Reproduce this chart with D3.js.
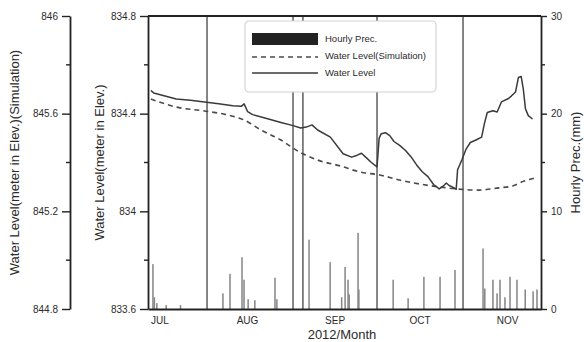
<!DOCTYPE html>
<html>
<head>
<meta charset="utf-8">
<script src="https://cdn.jsdelivr.net/npm/d3@7"></script>
<style>
  html, body { margin: 0; padding: 0; background: #fff; }
  text { font-family: "Liberation Sans", Arial, sans-serif; fill: #2b2b2b; }
</style>
</head>
<body>
<svg id="chart" width="584" height="342"></svg>
<script>
// ---- data ----------------------------------------------------------------
const monthLabels = ["JUL", "AUG", "SEP", "OCT", "NOV"];
const monthStarts = ["07-01 00", "08-01 00", "09-01 00", "10-01 00", "11-01 00"];

// observed water level (m, elevation)
const levelTimes = [
  "06-28 00", "06-29 00", "07-03 00", "07-07 00", "07-12 00", "07-17 00", "07-22 00",
  "07-27 00", "07-30 00", "07-31 00", "08-01 06", "08-03 00", "08-08 00", "08-13 00",
  "08-17 00", "08-20 00", "08-22 00", "08-24 00", "08-26 00", "08-30 12", "09-04 00",
  "09-07 00", "09-09 00", "09-10 12", "09-12 00", "09-14 00", "09-16 00", "09-16 18",
  "09-17 12", "09-19 00", "09-20 12", "09-22 00", "09-24 00", "09-26 00", "09-28 00",
  "09-30 00", "10-02 00", "10-04 00", "10-06 00", "10-08 00", "10-09 12", "10-10 12",
  "10-11 12", "10-13 00", "10-14 00", "10-14 12", "10-16 00", "10-17 12", "10-19 00",
  "10-21 00", "10-23 00", "10-24 00", "10-25 00", "10-27 00", "10-28 12", "10-30 00",
  "11-01 12", "11-02 12", "11-04 00", "11-05 00", "11-06 00", "11-06 18", "11-07 12",
  "11-08 12", "11-10 00"
];
const levelValues = [
  834.495, 834.485, 834.472, 834.460, 834.455, 834.448, 834.441,
  834.432, 834.430, 834.440, 834.408, 834.396, 834.380, 834.364,
  834.352, 834.341, 834.345, 834.354, 834.333, 834.304, 834.236,
  834.222, 834.230, 834.238, 834.222, 834.200, 834.182, 834.300,
  834.318, 834.322, 834.310, 834.286, 834.270, 834.250, 834.224,
  834.190, 834.162, 834.142, 834.110, 834.092, 834.104, 834.116,
  834.106, 834.098, 834.090, 834.170, 834.210, 834.255, 834.282,
  834.292, 834.304, 834.360, 834.405, 834.412, 834.407, 834.448,
  834.462, 834.472, 834.489, 834.548, 834.552, 834.500, 834.420,
  834.392, 834.378
];

// simulated water level (m, elevation)
const simTimes = [
  "06-28 00", "07-07 00", "07-17 00", "07-25 00", "07-31 00", "08-06 00", "08-13 00",
  "08-19 00", "08-26 00", "09-03 00", "09-10 00", "09-17 00", "09-24 00", "10-01 00",
  "10-08 00", "10-15 00", "10-22 00", "10-29 00", "11-03 00", "11-07 00", "11-11 00"
];
const simValues = [
  845.660, 845.627, 845.611, 845.595, 845.574, 845.533, 845.492,
  845.447, 845.410, 845.386, 845.361, 845.349, 845.328, 845.312,
  845.300, 845.291, 845.287, 845.296, 845.304, 845.324, 845.337
];

// hourly precipitation (mm)
const precTimes = [
  "06-28 18", "06-29 06", "06-30 03", "07-03 10", "07-08 12", "07-17 21", "07-23 12",
  "07-26 00", "07-30 06", "07-30 23", "08-01 10", "08-03 19", "08-10 22", "08-11 14",
  "08-17 07", "08-20 19", "08-22 23", "08-30 10", "09-03 12", "09-04 17", "09-05 18",
  "09-06 04", "09-09 07", "09-09 14", "09-16 00", "09-21 17", "09-27 00", "10-02 14",
  "10-08 07", "10-13 14", "10-16 10", "10-23 12", "10-24 03", "10-27 00", "10-28 11",
  "10-29 12", "10-31 06", "11-02 01", "11-04 12", "11-07 10", "11-10 05", "11-11 14"
];
const precValues = [
  4.6, 1.2, 0.6, 0.4, 0.4, 34, 1.6,
  3.6, 5.3, 3.0, 1.0, 0.9, 3.2, 1.0,
  36, 33, 7.1, 4.8, 1.2, 4.3, 3.0,
  1.5, 7.8, 2.0, 35, 3.0, 1.1, 3.3,
  3.3, 4.0, 34, 6.2, 2.1, 3.0, 1.6,
  3.0, 1.2, 3.3, 3.0, 2.0, 1.8, 2.0
];

const levelTicks = [833.6, 834, 834.4, 834.8];
const simTicks = [844.8, 845.2, 845.6, 846];
const precTicks = [0, 10, 20, 30];

const legendLabels = ["Hourly Prec.", "Water Level(Simulation)", "Water Level"];

// ---- layout ----------------------------------------------------------------
const parse = d3.timeParse("%Y-%m-%d %H");
const t = s => parse("2012-" + s);

const plotL = 148, plotR = 541, plotT = 16, plotB = 309;
const simAxisX = 70;

const x = d3.scaleTime()
  .domain([t("06-27 00"), t("11-13 00")])
  .range([plotL, plotR]);
const yLevel = d3.scaleLinear().domain([833.6, 834.8]).range([plotB, plotT]);
const ySim = d3.scaleLinear().domain([844.8, 846]).range([plotB, plotT]);
const yPrec = d3.scaleLinear().domain([0, 30]).range([plotB, plotT]).clamp(true);

const svg = d3.select("#chart");

svg.append("defs").append("clipPath").attr("id", "plot-clip")
  .append("rect").attr("x", plotL).attr("y", plotT)
  .attr("width", plotR - plotL).attr("height", plotB - plotT);

const plot = svg.append("g").attr("clip-path", "url(#plot-clip)");

// precipitation bars
const prec = precTimes.map((s, i) => ({ t: t(s), v: precValues[i] }));
plot.append("g").selectAll("rect").data(prec).join("rect")
  .attr("x", d => x(d.t) - 0.75)
  .attr("width", 1.5)
  .attr("y", d => yPrec(d.v))
  .attr("height", d => yPrec(0) - yPrec(d.v))
  .attr("fill", d => d.v >= 30 ? "#5e5e5e" : "#858585");

// simulated level (dashed)
const sim = simTimes.map((s, i) => ({ t: t(s), v: simValues[i] }));
plot.append("path").datum(sim)
  .attr("fill", "none").attr("stroke", "#4a4a4a").attr("stroke-width", 1.6)
  .attr("stroke-dasharray", "5,4")
  .attr("d", d3.line().curve(d3.curveMonotoneX).x(d => x(d.t)).y(d => ySim(d.v)));

// observed level (solid)
const level = levelTimes.map((s, i) => ({ t: t(s), v: levelValues[i] }));
plot.append("path").datum(level)
  .attr("fill", "none").attr("stroke", "#3a3a3a").attr("stroke-width", 1.5)
  .attr("stroke-linejoin", "round")
  .attr("d", d3.line().x(d => x(d.t)).y(d => yLevel(d.v)));

// ---- axes ----------------------------------------------------------------
function styleAxis(g, fontSize) {
  g.selectAll(".domain").attr("stroke", "#222").attr("stroke-width", 1.8);
  g.selectAll(".tick line").attr("stroke", "#222").attr("stroke-width", 1.4);
  g.selectAll(".tick text").attr("font-size", fontSize)
    .style("font-family", "Liberation Sans, Arial, sans-serif").attr("fill", "#333");
}
function minorTicks(g, scale, values, orient, len) {
  g.selectAll(".minor").data(values).join("line")
    .attr("class", "minor")
    .attr("x1", 0).attr("x2", orient === "left" ? -len : len)
    .attr("y1", d => scale(d)).attr("y2", d => scale(d))
    .attr("stroke", "#222").attr("stroke-width", 1.4);
}
const mids = ticks => ticks.slice(1).map((v, i) => (v + ticks[i]) / 2);

// simulation axis (far left)
const gSim = svg.append("g").attr("transform", `translate(${simAxisX},0)`)
  .call(d3.axisLeft(ySim).tickValues(simTicks).tickSize(8).tickSizeOuter(0).tickPadding(4)
    .tickFormat(d3.format("")));
styleAxis(gSim, 10);
minorTicks(gSim, ySim, mids(simTicks), "left", 4);

// observed level axis
const gLevel = svg.append("g").attr("transform", `translate(${plotL},0)`)
  .call(d3.axisLeft(yLevel).tickValues(levelTicks).tickSize(8).tickSizeOuter(0).tickPadding(4)
    .tickFormat(d3.format("")));
styleAxis(gLevel, 10);
minorTicks(gLevel, yLevel, mids(levelTicks), "left", 4);

// precipitation axis (right)
const gPrec = svg.append("g").attr("transform", `translate(${plotR},0)`)
  .call(d3.axisRight(yPrec).tickValues(precTicks).tickSize(6).tickSizeOuter(0).tickPadding(4));
styleAxis(gPrec, 10);
minorTicks(gPrec, yPrec, mids(precTicks), "right", 4);

// time axis
const gTime = svg.append("g").attr("transform", `translate(0,${plotB})`)
  .call(d3.axisBottom(x).tickValues(monthStarts.map(t)).tickSize(0).tickPadding(8)
    .tickFormat((d, i) => monthLabels[i]));
styleAxis(gTime, 10);

// top frame line
svg.append("line").attr("x1", plotL).attr("x2", plotR).attr("y1", plotT).attr("y2", plotT)
  .attr("stroke", "#222").attr("stroke-width", 1.8);

// axis titles
svg.append("text").attr("transform", `translate(19,${(plotT + plotB) / 2}) rotate(-90)`)
  .attr("text-anchor", "middle").attr("font-size", 13)
  .text("Water Level(meter in Elev.)(Simulation)");
svg.append("text").attr("transform", `translate(104,${(plotT + plotB) / 2}) rotate(-90)`)
  .attr("text-anchor", "middle").attr("font-size", 13)
  .text("Water Level(meter in Elev.)");
svg.append("text").attr("transform", `translate(580,${(plotT + plotB) / 2}) rotate(-90)`)
  .attr("text-anchor", "middle").attr("font-size", 13)
  .text("Hourly Prec.(mm)");
svg.append("text").attr("x", 342).attr("y", 339)
  .attr("text-anchor", "middle").attr("font-size", 13)
  .text("2012/Month");

// ---- legend ----------------------------------------------------------------
const lg = svg.append("g").attr("transform", "translate(245,21)");
lg.append("rect").attr("width", 191).attr("height", 71).attr("rx", 4)
  .attr("fill", "#fff").attr("stroke", "#d4d4d4").attr("stroke-width", 1.2);
lg.append("rect").attr("x", 7).attr("y", 12).attr("width", 66).attr("height", 12)
  .attr("fill", "#222");
lg.append("line").attr("x1", 7).attr("x2", 73).attr("y1", 36).attr("y2", 36)
  .attr("stroke", "#4a4a4a").attr("stroke-width", 1.6).attr("stroke-dasharray", "5,4");
lg.append("line").attr("x1", 7).attr("x2", 73).attr("y1", 52).attr("y2", 52)
  .attr("stroke", "#3a3a3a").attr("stroke-width", 1.5);
lg.selectAll("text.lab").data(legendLabels).join("text")
  .attr("class", "lab")
  .attr("x", 80).attr("y", (d, i) => 18 + i * 17)
  .attr("dy", "0.35em").attr("font-size", 9.5)
  .text(d => d);
</script>
</body>
</html>
